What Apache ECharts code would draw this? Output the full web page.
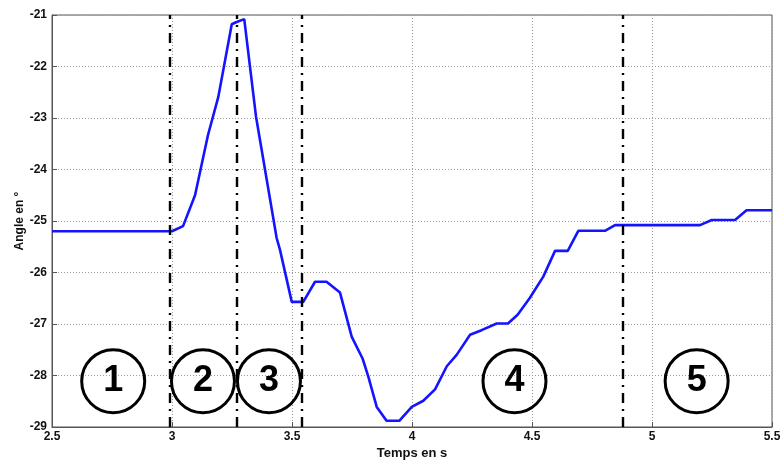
<!DOCTYPE html>
<html>
<head>
<meta charset="utf-8">
<script src="https://cdn.jsdelivr.net/npm/echarts@6/dist/echarts.min.js"></script>
<style>
html,body{margin:0;padding:0;background:#fff;}
#chart{width:781px;height:462px;}
</style>
</head>
<body>
<div id="chart"></div>
<script>
const timeS = [2.5, 3.0, 3.046, 3.096, 3.15, 3.193, 3.249, 3.267, 3.301, 3.35, 3.436, 3.45, 3.499, 3.547, 3.596, 3.644, 3.70, 3.749, 3.794, 3.818, 3.853, 3.894, 3.947, 3.999, 4.047, 4.096, 4.145, 4.186, 4.242, 4.29, 4.353, 4.40, 4.44, 4.49, 4.547, 4.596, 4.649, 4.693, 4.804, 4.846, 5.2, 5.249, 5.346, 5.394, 5.5];
const angle = [-25.2, -25.2, -25.1, -24.5, -23.33, -22.59, -21.18, -21.14, -21.08, -22.97, -25.33, -25.56, -26.57, -26.57, -26.18, -26.18, -26.39, -27.25, -27.67, -28.02, -28.61, -28.88, -28.88, -28.61, -28.49, -28.27, -27.82, -27.6, -27.21, -27.12, -26.99, -26.99, -26.82, -26.5, -26.08, -25.58, -25.58, -25.19, -25.19, -25.08, -25.08, -24.98, -24.98, -24.79, -24.79];
const phaseBounds = [2.99, 3.267, 3.537, 4.883];
const phaseLabels = ['1', '2', '3', '4', '5'];
const phaseLabelX = [2.755, 3.129, 3.404, 4.427, 5.186];
const phaseLabelY = [-28.11, -28.11, -28.11, -28.11, -28.11];
const xTicks = [2.5, 3, 3.5, 4, 4.5, 5, 5.5];
const yTicks = [-21, -22, -23, -24, -25, -26, -27, -28, -29];

const chart = echarts.init(document.getElementById('chart'), null, {renderer: 'canvas'});
const font = 'Liberation Sans, Arial, sans-serif';
const gridLine = {show: true, lineStyle: {color: '#9a9a9a', width: 1, type: [1, 2]}};
chart.setOption({
  animation: false,
  backgroundColor: '#fff',
  grid: {left: 52, top: 15, right: 9, bottom: 35, show: true, borderColor: '#555', borderWidth: 1,
    containLabel: false, outerBoundsMode: 'none'},
  xAxis: {
    type: 'value', min: xTicks[0], max: xTicks[xTicks.length - 1], interval: 0.5,
    name: 'Temps en s', nameLocation: 'middle', nameGap: 20, nameMoveOverlap: false,
    nameTextStyle: {fontFamily: font, fontWeight: 'bold', fontSize: 13, color: '#111'},
    axisLine: {onZero: false, lineStyle: {color: '#555', width: 1}},
    axisTick: {inside: true, length: 5, lineStyle: {color: '#555'}},
    axisLabel: {fontFamily: font, fontWeight: 'bold', fontSize: 12, color: '#111', margin: 4,
      formatter: v => String(v)},
    splitLine: gridLine
  },
  yAxis: {
    type: 'value', min: yTicks[yTicks.length - 1], max: yTicks[0], interval: 1,
    name: 'Angle en °', nameLocation: 'middle', nameGap: 26, nameRotate: 90, nameMoveOverlap: false,
    nameTextStyle: {fontFamily: font, fontWeight: 'bold', fontSize: 12, color: '#111'},
    axisLine: {show: true, onZero: false, lineStyle: {color: '#555', width: 1}},
    axisTick: {show: true, inside: true, length: 5, lineStyle: {color: '#555'}},
    axisLabel: {fontFamily: font, fontWeight: 'bold', fontSize: 12, color: '#111', margin: 5},
    splitLine: gridLine
  },
  series: [
    {
      type: 'line',
      data: timeS.map((t, i) => [t, angle[i]]),
      showSymbol: false, symbol: 'none',
      lineStyle: {color: '#1414ff', width: 2.6},
      z: 3,
      markLine: {
        silent: true, symbol: 'none', label: {show: false},
        lineStyle: {color: '#000', width: 2.4, type: [10, 6, 2, 6]},
        data: phaseBounds.map(x => ({xAxis: x}))
      }
    },
    {
      type: 'scatter',
      data: phaseLabels.map((l, i) => ({value: [phaseLabelX[i], phaseLabelY[i]], name: l})),
      symbol: 'circle', symbolSize: 63,
      itemStyle: {color: 'rgba(255,255,255,0)', borderColor: '#000', borderWidth: 3, opacity: 1},
      label: {show: true, position: 'inside', formatter: p => p.name,
        fontFamily: font, fontWeight: 'bold', fontSize: 36, color: '#000'},
      z: 4
    }
  ]
});
</script>
</body>
</html>
